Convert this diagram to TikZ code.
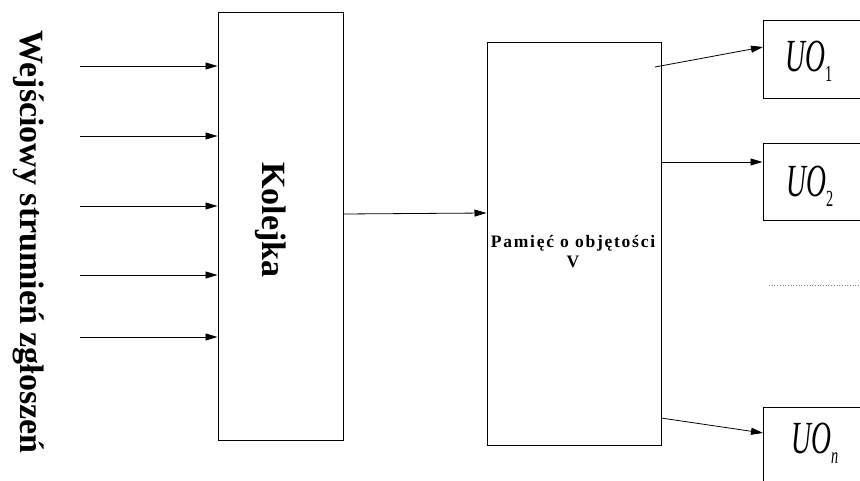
\documentclass[tikz,border=0pt]{standalone}
\usepackage{fontspec}
\setmainfont{Liberation Serif}
\newfontfamily\spacedbold[LetterSpace=10]{Liberation Serif}
\usetikzlibrary{arrows.meta}

\tikzset{
  box/.style={draw, line width=1pt, rectangle, inner sep=0pt},
  flow/.style={line width=0.8pt, -{Triangle[length=12pt,width=7pt]}},
  vlabel/.style={rotate=-90, anchor=base, inner sep=0pt,
                 font=\bfseries\fontsize{34}{40}\selectfont},
  uolabel/.style={anchor=base west, inner sep=0pt}
}

\newcommand{\uotext}[1]{%
  \scalebox{0.6}[1]{\fontsize{46}{50}\selectfont\itshape UO}%
  \raisebox{-10pt}{\scalebox{0.62}[1]{\fontsize{23}{25}\selectfont #1}}}

\begin{document}
\begin{tikzpicture}[x=1pt, y=-1pt]
  \clip (0,0) rectangle (860,481);
  \fill[white] (0,0) rectangle (860,481);

  % side caption
  \node[vlabel] (caption) at (20,242) {Wejściowy strumień zgłoszeń};

  % queue
  \node[box, minimum width=125pt, minimum height=427pt] (kolejka) at (280.5,226.5) {};
  \node[vlabel] (kolejkatxt) at (262,220) {Kolejka};

  % buffer memory
  \node[box, minimum width=174pt, minimum height=402pt] (pamiec) at (574,244) {};
  \node[align=center, inner sep=0pt, font=\spacedbold\bfseries\fontsize{17.5}{20}\selectfont]
    (pamiectxt) at (573,252) {Pamięć o objętości\\V};

  % service units
  \node[box, minimum width=120pt, minimum height=78pt] (uo1) at (823,60) {};
  \node[box, minimum width=120pt, minimum height=77pt] (uo2) at (823,182.5) {};
  \node[box, minimum width=120pt, minimum height=83pt] (uon) at (823,448.5) {};
  \node[uolabel] (uo1txt) at (785,72) {\uotext{1}};
  \node[uolabel] (uo2txt) at (786,197) {\uotext{2}};
  \node[uolabel] (uontxt) at (791,453) {\uotext{\itshape n}};

  % incoming requests
  \foreach \i/\y in {1/66, 2/136, 3/206, 4/275, 5/337} {
    \coordinate (in\i) at (80,\y);
    \draw[flow] (in\i) -- (kolejka.west |- in\i);
  }

  % queue -> memory
  \draw[flow] (kolejka.east |- 0,214) -- (pamiec.west |- 0,213);

  % memory -> service units
  \coordinate (out1) at (655,67);
  \coordinate (hit1) at (763,47);
  \coordinate (outn) at (661,418);
  \coordinate (hitn) at (763,433);
  \draw[flow] (out1) -- (hit1);
  \draw[flow] (pamiec.east |- 0,162) -- (uo2.west |- 0,162);
  \draw[flow] (outn) -- (hitn);

  % ellipsis between units
  \coordinate (dotsA) at (769,285);
  \coordinate (dotsB) at (860,285);
  \draw[dotted, gray, line width=0.7pt] (dotsA) -- (dotsB);
\end{tikzpicture}
\end{document}
